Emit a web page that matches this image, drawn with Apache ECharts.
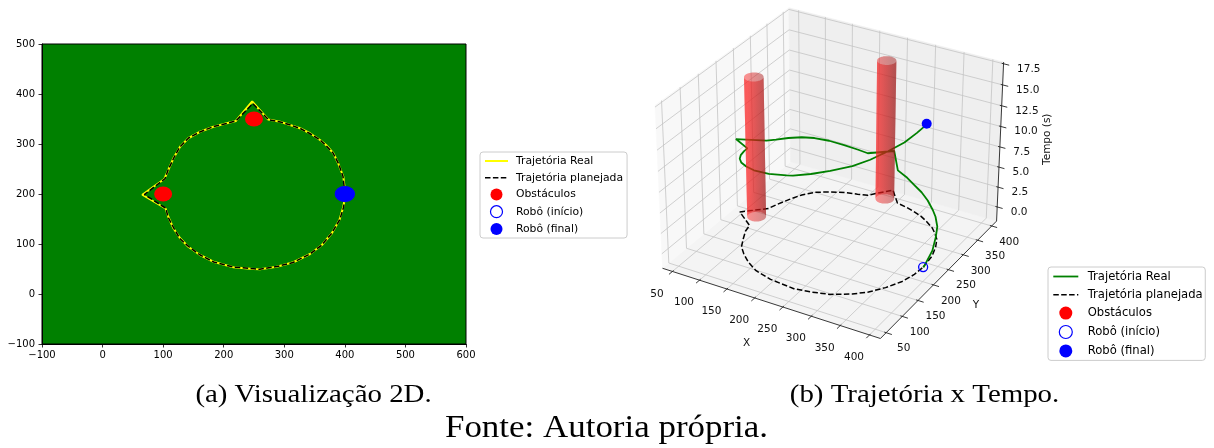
<!DOCTYPE html>
<html><head><meta charset="utf-8">
<script src="https://cdn.jsdelivr.net/npm/echarts@6/dist/echarts.min.js"></script>
<style>html,body{margin:0;padding:0;background:#fff;}#chart{width:1214px;height:448px;}</style>
</head><body><div id="chart"></div>
<script>
// ================= DATA =================
// real trajectory (x, y) and time (s)
const realX = [401,397.5,389,381,369,359,342.5,326,309.5,293,273.5,247,220,205,183,161,141.5,128,117,108.5,102,65.5,104,108.5,117,128,141.5,161,183,216,249,260,287.5,315,342.5,362,378.5,391,397.5,401];
const realY = [199.5,234.5,261.5,281.5,298,308,321.5,331.5,338,344.5,349,385,346,341.5,334.5,324.5,311.5,294.5,271.5,248,230,198.5,171,154.5,131.5,111.5,94.5,78,64.5,53.5,50,49.5,54.5,63.5,80,98,121.5,148,174.5,199.5];
const realT = [0,0.7,1.2,1.6,2.0,2.25,2.65,3.0,3.35,3.7,4.1,4.8,5.3,5.6,6.0,6.45,6.85,7.25,7.7,8.1,8.45,9.0,9.5,9.8,10.25,10.7,11.1,11.55,12.0,12.6,13.2,13.4,13.95,14.55,15.05,15.55,16.05,16.4,16.75,17.0];
// planned trajectory
const planX = [400,397,389.5,380.5,368.5,358.5,342,326.5,309,293.5,274,248,220.5,204.5,183.5,160.5,142,127.5,117.5,108,103,69,104.5,108,117.5,127.5,142,160.5,183.5,215.5,249.5,259.5,288,314.5,343,361.5,378,391.5,398,400];
const planY = [200,235,261,282,297.5,308.5,321,331,338.5,344,348.5,381,346.5,341,335,324,312,294,272,247.5,230.5,199,171.5,154,132,111,95,78.5,64,54,50.5,49.5,55,63,80.5,97.5,121,148.5,174,200];
// obstacles
const obstX = [100, 250];
const obstY = [200, 350];
const obstRadius = 15;
const obstHeight = 17.0;
// robot
const startPos = [400, 200, 0];
const finalPos = [400, 200, 17.0];
// axes / ticks
const xRange2D = [-100, 600];
const yRange2D = [-100, 500];
const step2D = 100;
const xTicks3D = [50,100,150,200,250,300,350,400];
const yTicks3D = [50,100,150,200,250,300,350,400];
const zTicks3D = [0,2.5,5,7.5,10,12.5,15,17.5];
const zTickLabels = ['0.0','2.5','5.0','7.5','10.0','12.5','15.0','17.5'];
const axisTitles3D = ['X','Y','Tempo (s)'];
const legendNames = ['Trajetória Real','Trajetória planejada','Obstáculos','Robô (início)','Robô (final)'];
const captions = ['(a) Visualização 2D.','(b) Trajetória x Tempo.','Fonte: Autoria própria.'];

// ================= 3D PROJECTION (matplotlib-like view) =================
const VIEW = {elev:30, azim:-60, dist:10};
const LIM = {x:[31.5,418.5], y:[32.5,417.5], z:[-1.8,17.7]};
const PIX = {cx:832.5, cy:165.5, sx:2185, sy:2167};
const AS = [4,4,3].map(a=>a*1.8294640721620434/Math.sqrt(41));
const el = VIEW.elev*Math.PI/180, az = VIEW.azim*Math.PI/180;
const ps = [Math.cos(el)*Math.cos(az), Math.cos(el)*Math.sin(az), Math.sin(el)];
const Rc = AS.map(a=>a/2);
const eye = Rc.map((r,i)=>r+VIEW.dist*ps[i]);
const wv = ps.slice();
let uv = [-wv[1], wv[0], 0]; const un = Math.hypot(uv[0],uv[1]); uv = uv.map(q=>q/un);
const vv = [wv[1]*uv[2]-wv[2]*uv[1], wv[2]*uv[0]-wv[0]*uv[2], wv[0]*uv[1]-wv[1]*uv[0]];
function proj(x,y,z){
  const p=[(x-LIM.x[0])/(LIM.x[1]-LIM.x[0])*AS[0],(y-LIM.y[0])/(LIM.y[1]-LIM.y[0])*AS[1],(z-LIM.z[0])/(LIM.z[1]-LIM.z[0])*AS[2]];
  const d=[p[0]-eye[0],p[1]-eye[1],p[2]-eye[2]];
  const vx=uv[0]*d[0]+uv[1]*d[1]+uv[2]*d[2];
  const vy=vv[0]*d[0]+vv[1]*d[1]+vv[2]*d[2];
  const vz=wv[0]*d[0]+wv[1]*d[1]+wv[2]*d[2];
  return [PIX.cx+PIX.sx*vx/(-vz), PIX.cy-PIX.sy*vy/(-vz)];
}
const PANE = {floor:'#f4f4f4', xwall:'#f8f8f8', ywall:'#efefef'};
const LBL = {x:[-15.5,22.5], y:[17.5,16], z:[13.5,5], tx:[-22,40.5], ty:[35,28.5], tz:[47,-4]};
const TICK_IN = 0.1, TICK_OUT = 0.3;
const FONT3D = '10.5px "DejaVu Sans"';

function renderBox(params, api){
  const P=(x,y,z)=>api.coord(proj(x,y,z));
  const [x0,x1]=LIM.x,[y0,y1]=LIM.y,[z0,z1]=LIM.z;
  const ch=[];
  const poly=(pts,fill)=>ch.push({type:'polygon',shape:{points:pts.map(q=>P(q[0],q[1],q[2]))},style:{fill:fill,stroke:fill,lineWidth:0.5}});
  const seg=(a,b,stroke,lw)=>ch.push({type:'line',shape:{x1:a[0],y1:a[1],x2:b[0],y2:b[1]},style:{stroke:stroke,lineWidth:lw}});
  poly([[x0,y0,z0],[x1,y0,z0],[x1,y1,z0],[x0,y1,z0]],PANE.floor);
  poly([[x0,y0,z0],[x0,y1,z0],[x0,y1,z1],[x0,y0,z1]],PANE.xwall);
  poly([[x0,y1,z0],[x1,y1,z0],[x1,y1,z1],[x0,y1,z1]],PANE.ywall);
  const g='#c4c4c4', gw=0.8;
  xTicks3D.forEach(x=>{seg(P(x,y0,z0),P(x,y1,z0),g,gw);seg(P(x,y1,z0),P(x,y1,z1),g,gw);});
  yTicks3D.forEach(y=>{seg(P(x0,y,z0),P(x1,y,z0),g,gw);seg(P(x0,y,z0),P(x0,y,z1),g,gw);});
  zTicks3D.forEach(z=>{seg(P(x0,y0,z),P(x0,y1,z),g,gw);seg(P(x0,y1,z),P(x1,y1,z),g,gw);});
  const ax='#222', aw=0.9;
  seg(P(x0,y0,z0),P(x1,y0,z0),ax,aw);
  seg(P(x1,y0,z0),P(x1,y1,z0),ax,aw);
  seg(P(x1,y1,z0),P(x1,y1,z1),ax,aw);
  const dX=(x1-x0)/12, dY=(y1-y0)/12;
  xTicks3D.forEach(x=>seg(P(x,y0+TICK_IN*dY,z0),P(x,y0-TICK_OUT*dY,z0),ax,aw));
  yTicks3D.forEach(y=>seg(P(x1-TICK_IN*dX,y,z0),P(x1+TICK_OUT*dX,y,z0),ax,aw));
  zTicks3D.forEach(z=>seg(P(x1-TICK_IN*dX,y1,z),P(x1+TICK_OUT*dX,y1,z),ax,aw));
  const txt=(p,off,s,align,rot)=>ch.push({type:'text',x:p[0]+off[0],y:p[1]+off[1],rotation:rot||0,
    style:{text:s,fill:'#111',font:FONT3D,align:align||'center',verticalAlign:'middle'}});
  xTicks3D.forEach(x=>txt(P(x,y0,z0),LBL.x,String(x)));
  yTicks3D.forEach(y=>txt(P(x1,y,z0),LBL.y,String(y)));
  zTicks3D.forEach((z,i)=>txt(P(x1,y1,z),LBL.z,zTickLabels[i],'left'));
  txt(P((x0+x1)/2,y0,z0),LBL.tx,axisTitles3D[0]);
  txt(P(x1,(y0+y1)/2,z0),LBL.ty,axisTitles3D[1]);
  txt(P(x1,y1,(z0+z1)/2),LBL.tz,axisTitles3D[2],'center',Math.PI/2);
  return {type:'group',children:ch};
}

function renderCyl(params, api){
  const ox=api.value(0), oy=api.value(1), h=api.value(2), r=api.value(3);
  const a0=Math.atan2(ps[1],ps[0]);
  const N=40;
  const arc=(from,to,z)=>{const out=[];for(let k=0;k<=N;k++){const a=from+(to-from)*k/N;out.push(api.coord(proj(ox+r*Math.cos(a),oy+r*Math.sin(a),z)));}return out;};
  const L=[-0.667,-0.667,0.333];
  const shadeCol=(a)=>{const s=Math.cos(a)*L[0]+Math.sin(a)*L[1];const f=0.6+0.4*(s+1)/2;
    return 'rgba('+Math.round(255*f)+','+Math.round(30*f)+','+Math.round(30*f)+',0.47)';};
  const layer=(from,to)=>{
    const topA=arc(from,to,h), botA=arc(to,from,0);
    const pts=topA.concat(botA);
    let mn=Infinity,mx=-Infinity; pts.forEach(p=>{mn=Math.min(mn,p[0]);mx=Math.max(mx,p[0]);});
    const stops=[];
    for(let k=0;k<=12;k++){const a=from+(to-from)*k/12;const p=api.coord(proj(ox+r*Math.cos(a),oy+r*Math.sin(a),0));
      stops.push({offset:Math.min(1,Math.max(0,(p[0]-mn)/(mx-mn))),color:shadeCol(a)});}
    stops.sort((p,q)=>p.offset-q.offset);
    return {type:'polygon',shape:{points:pts},style:{fill:{type:'linear',x:0,y:0,x2:1,y2:0,colorStops:stops}}};
  };
  return {type:'group',children:[layer(a0+Math.PI*1.5,a0+Math.PI/2),layer(a0-Math.PI/2,a0+Math.PI/2)]};
}

// ================= CHART =================
const chart = echarts.init(document.getElementById('chart'), null, {renderer:'canvas', width:1214, height:448});
const minus = v => String(v).replace('-', '\u2212');
const real2D = realX.map((x,i)=>[x, realY[i]]);
const plan2D = planX.map((x,i)=>[x, planY[i]]);
const obst2D = obstX.map((x,i)=>[x, obstY[i]]);
const real3D = realX.map((x,i)=>proj(x, realY[i], realT[i]));
const plan3D = planX.map((x,i)=>proj(x, planY[i], 0));
const cylData = obstX.map((x,i)=>[x, obstY[i], obstHeight, obstRadius]);

const hideSym = {color:'rgba(0,0,0,0)', borderColor:'rgba(0,0,0,0)', borderWidth:0, opacity:0};
const legendItems = (realColor, lw) => [
  {name:legendNames[0], itemStyle:hideSym, lineStyle:{color:realColor, width:lw}},
  {name:legendNames[1], itemStyle:hideSym, lineStyle:{color:'#000', width:1.5, type:[5.5,2.4]}},
  {name:legendNames[2], icon:'circle', itemStyle:{color:'#ff0000', borderWidth:0}},
  {name:legendNames[3], icon:'circle', itemStyle:{color:'rgba(255,255,255,0)', borderColor:'#0000ff', borderWidth:1.2}},
  {name:legendNames[4], icon:'circle', itemStyle:{color:'#0000ff', borderWidth:0}}
];

const option = {
  animation:false,
  backgroundColor:'#ffffff',
  grid:[
    {left:42, top:44, width:424, height:300, show:true, backgroundColor:'#008000', borderColor:'#000', borderWidth:1},
    {left:0, top:0, width:1214, height:448, show:false}
  ],
  xAxis:[
    {gridIndex:0, type:'value', min:xRange2D[0], max:xRange2D[1], interval:step2D,
     axisLine:{show:true,onZero:false,lineStyle:{color:'#000',width:1}},
     axisTick:{show:true,length:3.5,lineStyle:{color:'#000',width:0.8}},
     axisLabel:{color:'#000',fontSize:10,fontFamily:'DejaVu Sans',margin:6,formatter:minus},
     splitLine:{show:false}},
    {gridIndex:1, type:'value', min:0, max:1214, show:false}
  ],
  yAxis:[
    {gridIndex:0, type:'value', min:yRange2D[0], max:yRange2D[1], interval:step2D,
     axisLine:{show:true,onZero:false,lineStyle:{color:'#000',width:1}},
     axisTick:{show:true,length:3.5,lineStyle:{color:'#000',width:0.8}},
     axisLabel:{color:'#000',fontSize:10,fontFamily:'DejaVu Sans',margin:7,formatter:minus},
     splitLine:{show:false}},
    {gridIndex:1, type:'value', min:0, max:448, inverse:true, show:false}
  ],
  legend:[
    {orient:'vertical', left:480, top:152, padding:[3,4,3,4], itemGap:4.7, itemWidth:23, itemHeight:12,
     borderColor:'#cccccc', borderWidth:1, borderRadius:3, backgroundColor:'rgba(255,255,255,0.8)', selectedMode:false,
     textStyle:{fontFamily:'DejaVu Sans', fontSize:10.8, color:'#000', lineHeight:12, padding:[0,0,0,3]},
     data:legendItems('#ffff00', 2)},
    {orient:'vertical', left:1048, top:267, padding:[3,2.6,3,4.4], itemGap:5.3, itemWidth:25, itemHeight:13,
     borderColor:'#cccccc', borderWidth:1, borderRadius:3, backgroundColor:'rgba(255,255,255,0.8)', selectedMode:false,
     textStyle:{fontFamily:'DejaVu Sans', fontSize:11.6, color:'#000', lineHeight:13, padding:[0,0,0,4.4]},
     data:legendItems('#008000', 1.8)}
  ],
  graphic:[
    {type:'text', x:313.5, y:395, scaleX:1.11, style:{text:captions[0], font:'26px "Liberation Serif"', fill:'#000', align:'center', verticalAlign:'middle'}},
    {type:'text', x:924.5, y:395, scaleX:1.11, style:{text:captions[1], font:'26px "Liberation Serif"', fill:'#000', align:'center', verticalAlign:'middle'}},
    {type:'text', x:606.5, y:429, scaleX:1.127, style:{text:captions[2], font:'31px "Liberation Serif"', fill:'#000', align:'center', verticalAlign:'middle'}}
  ],
  series:[
    // ---- 2D ----
    {name:legendNames[0], type:'line', xAxisIndex:0, yAxisIndex:0, data:real2D, symbol:'none', z:3,
     lineStyle:{color:'#ffff00', width:2}, itemStyle:{color:'#ffff00'}},
    {name:legendNames[1], type:'line', xAxisIndex:0, yAxisIndex:0, data:plan2D, symbol:'none', z:4,
     lineStyle:{color:'#000', width:1.5, type:[5.5,2.4]}, itemStyle:{color:'#000'}},
    {name:legendNames[2], type:'scatter', xAxisIndex:0, yAxisIndex:0, data:obst2D, symbol:'circle', symbolSize:[18,15], z:5,
     itemStyle:{color:'#ff0000', opacity:1}},
    {name:legendNames[3], type:'scatter', xAxisIndex:0, yAxisIndex:0, data:[[startPos[0],startPos[1]]], symbol:'circle', symbolSize:[19,15], z:5,
     itemStyle:{color:'rgba(0,0,0,0)', borderColor:'#0000ff', borderWidth:1.3, opacity:1}},
    {name:legendNames[4], type:'scatter', xAxisIndex:0, yAxisIndex:0, data:[[finalPos[0],finalPos[1]]], symbol:'circle', symbolSize:[19,15], z:6,
     itemStyle:{color:'#0000ff', opacity:1}},
    // ---- 3D (projected) ----
    {type:'custom', xAxisIndex:1, yAxisIndex:1, data:[[0,0]], renderItem:renderBox, z:1, silent:true, clip:false},
    {name:legendNames[1], type:'line', xAxisIndex:1, yAxisIndex:1, data:plan3D, symbol:'none', z:2,
     lineStyle:{color:'#000', width:1.5, type:[5.5,2.4]}, itemStyle:{color:'#000'}},
    {name:legendNames[0], type:'line', xAxisIndex:1, yAxisIndex:1, data:real3D, symbol:'none', z:3,
     lineStyle:{color:'#008000', width:1.8}, itemStyle:{color:'#008000'}},
    {type:'custom', xAxisIndex:1, yAxisIndex:1, data:cylData, renderItem:renderCyl, z:4, silent:true, clip:false,
     encode:{x:0,y:1}},
    {name:legendNames[3], type:'scatter', xAxisIndex:1, yAxisIndex:1, data:[proj(startPos[0],startPos[1],startPos[2])], symbol:'circle', symbolSize:9, z:5,
     itemStyle:{color:'rgba(0,0,0,0)', borderColor:'#0000ff', borderWidth:1.3, opacity:1}},
    {name:legendNames[4], type:'scatter', xAxisIndex:1, yAxisIndex:1, data:[proj(finalPos[0],finalPos[1],finalPos[2])], symbol:'circle', symbolSize:10, z:5,
     itemStyle:{color:'#0000ff', opacity:1}}
  ]
};
chart.setOption(option);
</script>
</body></html>
